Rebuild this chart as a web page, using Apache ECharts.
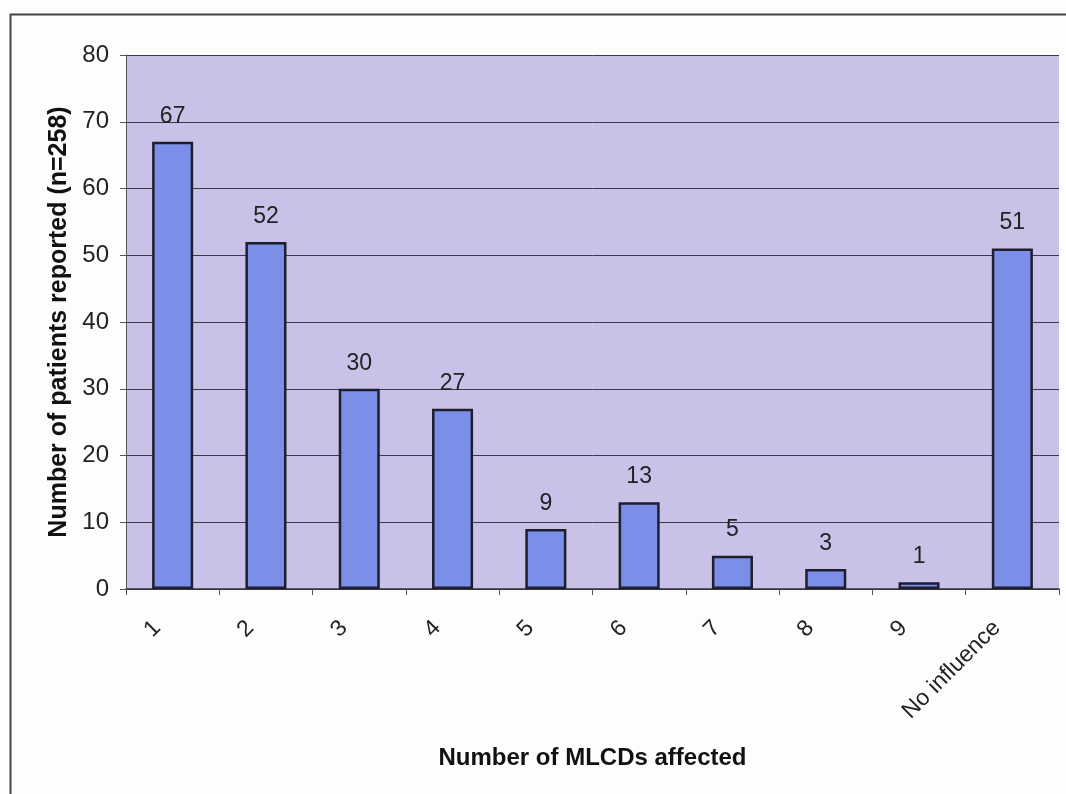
<!DOCTYPE html>
<html>
<head>
<meta charset="utf-8">
<script src="https://cdn.jsdelivr.net/npm/echarts@6/dist/echarts.min.js"></script>
<style>
html,body{margin:0;padding:0;background:#fdfdfd;}
#chart{width:1066px;height:794px;}
</style>
</head>
<body>
<div id="chart"></div>
<script>
var categories = ['1','2','3','4','5','6','7','8','9','No influence'];
var values = [67, 52, 30, 27, 9, 13, 5, 3, 1, 51];
var yTicks = [0, 10, 20, 30, 40, 50, 60, 70, 80];

var chart = echarts.init(document.getElementById('chart'));
var font = '"Liberation Sans", Arial, sans-serif';
chart.setOption({
  animation: false,
  backgroundColor: '#fdfdfd',
  graphic: [{
    type: 'rect', left: 8, top: 12, z: -1,
    shape: {width: 1070, height: 800},
    style: {fill: 'none', stroke: '#444', lineWidth: 2}
  }],
  grid: {left: 126, right: 7, top: 55, bottom: 205, backgroundColor: '#c9c1e7', show: true, borderWidth: 0},
  xAxis: {
    type: 'category',
    data: categories,
    axisLine: {lineStyle: {color: '#333', width: 1.5}},
    axisTick: {show: true, alignWithLabel: false, length: 6, lineStyle: {color: '#555'}},
    axisLabel: {rotate: 45, color: '#222', fontSize: 23, fontFamily: font, margin: 20, interval: 0, padding: [0, 22, 0, 0]},
    name: 'Number of MLCDs affected',
    nameLocation: 'middle',
    nameGap: 157,
    nameTextStyle: {fontSize: 24, fontWeight: 'bold', color: '#111', fontFamily: font}
  },
  yAxis: {
    type: 'value',
    min: 0, max: 80, interval: 10,
    axisLine: {show: true, lineStyle: {color: '#555', width: 1}},
    axisTick: {show: true, length: 6, lineStyle: {color: '#555'}},
    axisLabel: {color: '#222', fontSize: 24, fontFamily: font, margin: 17},
    splitLine: {lineStyle: {color: '#3a3a4a', width: 1}},
    name: 'Number of patients reported (n=258)',
    nameLocation: 'middle',
    nameGap: 54,
    nameTextStyle: {fontSize: 25, fontWeight: 'bold', color: '#111', fontFamily: font}
  },
  series: [{
    type: 'bar',
    data: values,
    barWidth: '44%',
    itemStyle: {color: '#7b8fe9', borderColor: '#1e1e2e', borderWidth: 2.5},
    label: {show: true, position: 'top', distance: 14, color: '#222', fontSize: 23, fontFamily: font}
  }]
});
</script>
</body>
</html>
